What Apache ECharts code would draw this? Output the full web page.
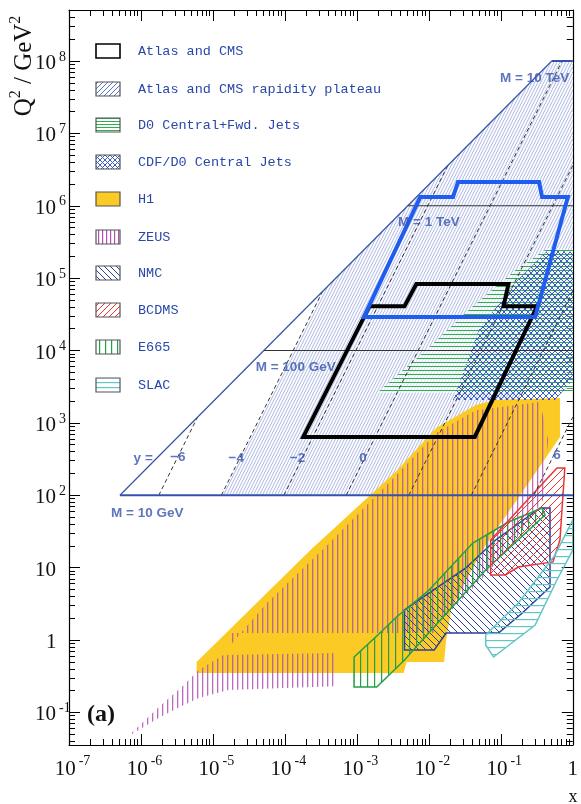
<!DOCTYPE html>
<html><head><meta charset="utf-8">
<script src="https://cdn.jsdelivr.net/npm/echarts@6/dist/echarts.min.js"></script>
<style>html,body{margin:0;padding:0;background:#fff}#c{width:581px;height:804px}</style>
</head><body><div id="c"></div>
<script>
// ---------- data (x, Q^2 in GeV^2) ----------
const xDecades = [-7, -6, -5, -4, -3, -2, -1, 0];
const yDecades = [-1, 0, 1, 2, 3, 4, 5, 6, 7, 8];
const legendNames = ['Atlas and CMS', 'Atlas and CMS rapidity plateau', 'D0 Central+Fwd. Jets',
  'CDF/D0 Central Jets', 'H1', 'ZEUS', 'NMC', 'BCDMS', 'E665', 'SLAC'];

const kinematicLimit = [[5.1e-7, 1e2], [0.51, 1e8]];
const massLine10GeV = [[5.1e-7, 1e2], [1, 1e2]];
const massLine100GeV = [[5.1e-5, 1e4], [1, 1e4]];
const massLine1TeV = [[5.1e-3, 1e6], [1, 1e6]];
const massLine10TeV = [[0.51, 1e8], [1, 1e8]];
const rapidityM6 = [[1.77e-6, 1e2], [6.1e-6, 1.2e3]];
const rapidityM4 = [[1.31e-5, 1e2], [3.35e-4, 6.6e4]];
const rapidityM2 = [[9.7e-5, 1e2], [1.83e-2, 3.6e6]];
const rapidity0 = [[7.1e-4, 1e2], [0.71, 1e8]];
const rapidityP2 = [[5.28e-3, 1e2], [1, 3.6e6]];
const rapidityP4 = [[0.039, 1e2], [1, 6.6e4]];
const rapidityP6 = [[0.288, 1e2], [1, 1.2e3]];

const plateauRegion = [[1.31e-5, 1e2], [3.35e-4, 6.6e4], [0.51, 1e8], [1, 1e8], [1, 6.6e4], [0.039, 1e2]];
const atlasCMS = [[1.8e-4, 640], [1.5e-3, 4.1e4], [4.6e-3, 4.1e4], [6.7e-3, 8.3e4], [0.128, 8.3e4],
  [0.109, 4.1e4], [0.32, 4.1e4], [0.0435, 640]];
const atlasCMSHigh = [[1.25e-3, 2.9e4], [7.6e-3, 1.32e6], [0.0217, 1.32e6], [0.0254, 2.13e6], [0.341, 2.13e6],
  [0.375, 1.32e6], [0.855, 1.32e6], [0.30, 2.9e4]];
const d0Jets = [[1.89e-3, 2.59e3], [9.2e-3, 1.02e4], [0.0384, 3.87e4], [0.16, 1.29e5], [0.454, 2.61e5],
  [1, 2.45e5], [1, 2.59e3]];
const cdfJets = [[0.0217, 2.07e3], [0.0494, 1.92e4], [0.16, 8.8e4], [0.454, 2.45e5], [1, 2.3e5],
  [1, 3.9e3], [0.566, 2.07e3]];
const h1 = [[5.94e-6, 0.35], [5.94e-6, 0.497], [2.27e-4, 17.5], [3.56e-3, 216], [0.01265, 849], [0.045, 1766],
  [0.0848, 2070], [0.664, 2207], [0.664, 638], [0.16, 80.7], [0.0617, 20.5], [0.0327, 6.75], [0.0204, 2.6],
  [0.0174, 1.0], [0.0163, 0.497], [4.9e-3, 0.497], [4.46e-3, 0.35]];
const zeusLow = [[6.5e-7, 0.046], [1.78e-6, 0.119], [3.94e-6, 0.239], [6.33e-6, 0.385], [1.4e-5, 0.62],
  [4.85e-4, 0.66], [4.85e-4, 0.23], [1.64e-5, 0.204], [6.33e-6, 0.158], [3.94e-6, 0.126], [1.78e-6, 0.084]];
const zeusHigh = [[1.75e-5, 0.85], [5.8e-5, 3.35], [3.9e-4, 20.5], [3.56e-3, 190], [0.0127, 724], [0.045, 1500],
  [0.352, 1940], [0.454, 580], [0.387, 86], [0.16, 24], [0.0617, 7.9], [0.0239, 3.0], [0.0127, 1.61],
  [0.0127, 1.25], [1.75e-5, 1.25]];
const nmc = [[4.59e-3, 2.6], [0.0327, 9.9], [0.0848, 24.1], [0.352, 66.7], [0.483, 66.7], [0.483, 5.4],
  [0.199, 2.36], [0.0931, 1.25], [0.0174, 1.25], [0.0119, 0.727], [4.59e-3, 0.727]];
const bcdms = [[0.0723, 24.1], [0.0723, 7.91], [0.116, 7.91], [0.175, 10.2], [0.531, 12.0], [0.664, 24.1],
  [0.776, 238], [0.603, 238]];
const e665 = [[9.14e-4, 0.582], [1.89e-3, 1.136], [3.56e-3, 2.08], [0.0101, 4.91], [0.0408, 21.9],
  [0.1276, 42.7], [0.375, 66.7], [0.412, 53.3], [0.0617, 9.27], [0.0158, 2.08], [4.59e-3, 0.529],
  [1.89e-3, 0.224], [9.14e-4, 0.224]];
const slac = [[0.0617, 1.17], [0.175, 3.25], [0.566, 14.9], [1, 45.5], [1, 17.5], [0.603, 6.75],
  [0.30, 1.61], [0.0794, 0.582], [0.0617, 0.853]];

// ---------- helpers ----------
const L = v => Math.log10(v);
const tr = pts => pts.map(p => [L(p[0]), L(p[1])]);
const X_MIN = -7, X_MAX = 0, Y_MIN = -1.451, Y_MAX = 8.705;

function tile(w, h, fn) {
  const c = document.createElement('canvas'); c.width = w; c.height = h;
  const g = c.getContext('2d'); fn(g, w, h); return { image: c, repeat: 'repeat' };
}
function diag(p, color, lw, dir, bg) {
  return tile(p, p, (g) => {
    if (bg) { g.fillStyle = bg; g.fillRect(0, 0, p, p); }
    g.strokeStyle = color; g.lineWidth = lw; g.beginPath();
    if (dir >= 0) {
      g.moveTo(-1, 1); g.lineTo(1, -1); g.moveTo(0, p); g.lineTo(p, 0); g.moveTo(p - 1, p + 1); g.lineTo(p + 1, p - 1);
    }
    if (dir <= 0) {
      g.moveTo(-1, p - 1); g.lineTo(1, p + 1); g.moveTo(0, 0); g.lineTo(p, p); g.moveTo(p - 1, -1); g.lineTo(p + 1, 1);
    }
    g.stroke();
  });
}
function horiz(p, color, lw, bg) {
  return tile(4, p, (g) => { if (bg) { g.fillStyle = bg; g.fillRect(0, 0, 4, p); } g.fillStyle = color; g.fillRect(0, Math.floor(p / 2), 4, lw); });
}
function vert(p, color, lw, bg) {
  return tile(p, 4, (g) => { if (bg) { g.fillStyle = bg; g.fillRect(0, 0, p, 4); } g.fillStyle = color; g.fillRect(Math.floor(p / 2), 0, lw, 4); });
}
const plateauPat = tile(3, 6, (g) => {
  g.fillStyle = '#ffffff'; g.fillRect(0, 0, 3, 6);
  g.strokeStyle = 'rgba(80,105,195,0.6)'; g.lineWidth = 0.8; g.beginPath();
  g.moveTo(0, 6); g.lineTo(3, 0); g.moveTo(-3, 6); g.lineTo(0, 0); g.moveTo(3, 6); g.lineTo(6, 0); g.stroke();
});

const C = {
  blue: '#3452ad', h1: '#fcca24', zeus: '#b052b0', d0: '#2fae4f', cdf: '#3a5cc4',
  nmc: '#2b3f9c', bcdms: '#ea3535', e665: '#22a045', slac: '#62c6c6'
};

const pats = {
  plateau: plateauPat,
  d0: horiz(4, C.d0, 1, 'rgba(255,255,255,0.55)'),
  cdf: diag(6, C.cdf, 1, 0),
  h1: C.h1,
  zeus: vert(5, 'rgba(176,82,176,0.85)', 1.3),
  nmc: diag(7, C.nmc, 1, -1),
  bcdms: diag(8, C.bcdms, 1, 1),
  e665: vert(7, C.e665, 1.2),
  slac: horiz(7, C.slac, 1.2)
};
const legPats = [
  '#ffffff',
  diag(5, '#5a74c8', 1, 1, '#ffffff'),
  horiz(3, C.d0, 1, '#ffffff'),
  diag(5, C.cdf, 1, 0, '#ffffff'),
  C.h1,
  vert(4, C.zeus, 1.2, '#ffffff'),
  diag(6, C.nmc, 1, -1, '#ffffff'),
  diag(6, C.bcdms, 1, 1, '#ffffff'),
  vert(6, C.e665, 1.2, '#ffffff'),
  horiz(5, C.slac, 1.2, '#ffffff')
];

function region(name, verts, fill, stroke, lw, z) {
  const pts = tr(verts);
  return {
    type: 'custom', name, z, silent: true, animation: false, clip: true,
    coordinateSystem: 'cartesian2d', data: pts,
    renderItem: (params, api) => {
      if (params.dataIndex !== 0) return null;
      return {
        type: 'polygon',
        shape: { points: pts.map(p => api.coord(p)) },
        style: { fill: fill, stroke: stroke || null, lineWidth: lw || 0 }
      };
    }
  };
}
function line(pts, color, width, type, z) {
  return { type: 'line', data: tr(pts), symbol: 'none', silent: true, animation: false, z,
    lineStyle: { color, width, type: type || 'solid' } };
}

const xMinor = [], yMinor = [];
for (let d = -7; d < 0; d++) for (let k = 2; k <= 9; k++) xMinor.push(d + Math.log10(k));
for (let d = -2; d <= 8; d++) for (let k = 2; k <= 9; k++) { const v = d + Math.log10(k); if (v > Y_MIN && v < Y_MAX) yMinor.push(v); }

const serif = 'Liberation Serif';
function xAxis(pos, values, len, labels, showLine) {
  return {
    type: 'value', position: pos, min: X_MIN, max: X_MAX,
    axisLine: { show: showLine, onZero: false, lineStyle: { color: '#000', width: 1.2 } },
    axisTick: { show: true, inside: true, length: len, customValues: values, lineStyle: { color: '#000', width: 1 } },
    splitLine: { show: false },
    axisLabel: labels ? {
      show: true, customValues: xDecades, margin: 9, color: '#111',
      formatter: v => v === 0 ? '{one|1}' : '{b|10}{s|' + v + '}',
      rich: {
        b: { fontFamily: serif, fontSize: 21, lineHeight: 22, padding: [9, 0, 0, 7], color: '#111' },
        s: { fontFamily: serif, fontSize: 14, lineHeight: 14, verticalAlign: 'top', padding: [0, 0, 0, 3], color: '#111' },
        one: { fontFamily: serif, fontSize: 21, lineHeight: 22, padding: [9, 0, 0, 0], color: '#111' }
      }
    } : { show: false }
  };
}
function yAxis(pos, values, len, labels, showLine) {
  return {
    type: 'value', position: pos, min: Y_MIN, max: Y_MAX,
    axisLine: { show: showLine, onZero: false, lineStyle: { color: '#000', width: 1.2 } },
    axisTick: { show: true, inside: true, length: len, customValues: values, lineStyle: { color: '#000', width: 1 } },
    splitLine: { show: false },
    axisLabel: labels ? {
      show: true, customValues: yDecades, margin: 34, align: 'left', color: '#111',
      formatter: v => v === 0 ? '{one|1}' : (v === 1 ? '{b|10}' : '{b|10}{s|' + v + '}'),
      rich: {
        b: { fontFamily: serif, fontSize: 21, lineHeight: 22, padding: [5, 0, 0, 0], color: '#111' },
        s: { fontFamily: serif, fontSize: 14, lineHeight: 14, verticalAlign: 'top', padding: [0, 0, 0, 3], color: '#111' },
        one: { fontFamily: serif, fontSize: 21, lineHeight: 22, padding: [5, 0, 0, 11], color: '#111' }
      }
    } : { show: false }
  };
}

const annotations = [
  { t: 'M = 10 TeV', v: [-0.53, 7.765] },
  { t: 'M = 1 TeV', v: [-2.0, 5.776] },
  { t: 'M = 100 GeV', v: [-3.85, 3.772] },
  { t: 'M = 10 GeV', v: [-5.913, 1.755] },
  { t: 'y =', v: [-5.969, 2.515] },
  { t: '\u22126', v: [-5.487, 2.528] },
  { t: '\u22124', v: [-4.676, 2.515] },
  { t: '\u22122', v: [-3.823, 2.515] },
  { t: '0', v: [-2.915, 2.515] },
  { t: '6', v: [-0.22, 2.556] }
];

const series = [
  region('Atlas and CMS rapidity plateau', plateauRegion, pats.plateau, null, 0, 1),
  region('H1', h1, pats.h1, null, 0, 2),
  region('ZEUS low', zeusLow, pats.zeus, null, 0, 3),
  region('ZEUS', zeusHigh, pats.zeus, null, 0, 3),
  region('D0 Central+Fwd. Jets', d0Jets, pats.d0, null, 0, 3),
  region('CDF/D0 Central Jets', cdfJets, pats.cdf, null, 0, 4),
  region('NMC', nmc, pats.nmc, C.nmc, 1.5, 5),
  region('E665', e665, pats.e665, C.e665, 1.5, 5),
  region('BCDMS', bcdms, pats.bcdms, C.bcdms, 1.5, 5),
  region('SLAC', slac, pats.slac, C.slac, 1.5, 5),
  line(rapidityM6, '#333', 1, [4, 3], 6),
  line(rapidityM4, '#333', 1, [4, 3], 6),
  line(rapidityM2, '#333', 1, [4, 3], 6),
  line(rapidity0, '#333', 1, [4, 3], 6),
  line(rapidityP2, '#333', 1, [4, 3], 6),
  line(rapidityP4, '#333', 1, [4, 3], 6),
  line(rapidityP6, '#333', 1, [4, 3], 6),
  line(kinematicLimit, C.blue, 1.2, 'solid', 6),
  line(massLine10GeV, C.blue, 2, 'solid', 6),
  line(massLine100GeV, '#333', 1, 'solid', 6),
  line(massLine1TeV, '#333', 1, 'solid', 6),
  line(massLine10TeV, C.blue, 2, 'solid', 6),
  region('Atlas and CMS', atlasCMS, 'transparent', '#000', 4, 7),
  region('Atlas and CMS (high)', atlasCMSHigh, 'transparent', '#1f5df0', 4, 8),
  {
    type: 'scatter', silent: true, animation: false, z: 20, symbolSize: 0.1,
    itemStyle: { color: 'transparent' },
    data: annotations.map(a => ({ value: a.v, label: { formatter: a.t } })),
    label: { show: true, position: 'inside', color: C.blue, fontFamily: 'Liberation Sans', fontWeight: 'bold', fontSize: 13.5 }
  }
];

const legendCenters = [51, 89, 125, 162, 199, 237, 273, 310, 347, 385];
const graphic = [];
legendNames.forEach((n, i) => {
  graphic.push({ type: 'rect', z: 100, shape: { x: 96, y: legendCenters[i] - 7, width: 24, height: 14 },
    style: { fill: legPats[i], stroke: i === 0 ? '#000' : '#555', lineWidth: i === 0 ? 1.6 : 1.2 } });
  graphic.push({ type: 'text', z: 100, x: 138, y: legendCenters[i],
    style: { text: n, font: '13.5px "Liberation Mono"', fill: '#2848a8', verticalAlign: 'middle', align: 'left' } });
});
graphic.push({ type: 'text', z: 100, x: 22, y: 66, rotation: Math.PI / 2,
  style: { text: '{m|Q}{s|2}{m| / GeV}{s|2}', align: 'center', verticalAlign: 'middle',
    rich: { m: { fontFamily: serif, fontSize: 25, lineHeight: 28, padding: [4, 0, 0, 0], fill: '#111' },
            s: { fontFamily: serif, fontSize: 16, lineHeight: 16, verticalAlign: 'top', fill: '#111' } } } });
graphic.push({ type: 'text', z: 100, x: 573, y: 797,
  style: { text: 'x', font: '18px "Liberation Serif"', fill: '#111', align: 'center', verticalAlign: 'middle' } });
graphic.push({ type: 'text', z: 100, x: 101, y: 715,
  style: { text: '(a)', font: 'bold 24px "Liberation Serif"', fill: '#111', align: 'center', verticalAlign: 'middle' } });

const chart = echarts.init(document.getElementById('c'), null, { renderer: 'canvas', width: 581, height: 804 });
chart.setOption({
  animation: false,
  backgroundColor: '#ffffff',
  grid: { left: 69, right: 3, top: 10, bottom: 59, containLabel: false },
  xAxis: [xAxis('bottom', xDecades, 11, true, true), xAxis('bottom', xMinor, 6, false, false),
          xAxis('top', xDecades, 11, false, true), xAxis('top', xMinor, 6, false, false)],
  yAxis: [yAxis('left', yDecades, 11, true, true), yAxis('left', yMinor, 6, false, false),
          yAxis('right', yDecades, 11, false, true), yAxis('right', yMinor, 6, false, false)],
  series: series,
  graphic: graphic
});
</script>
</body></html>
